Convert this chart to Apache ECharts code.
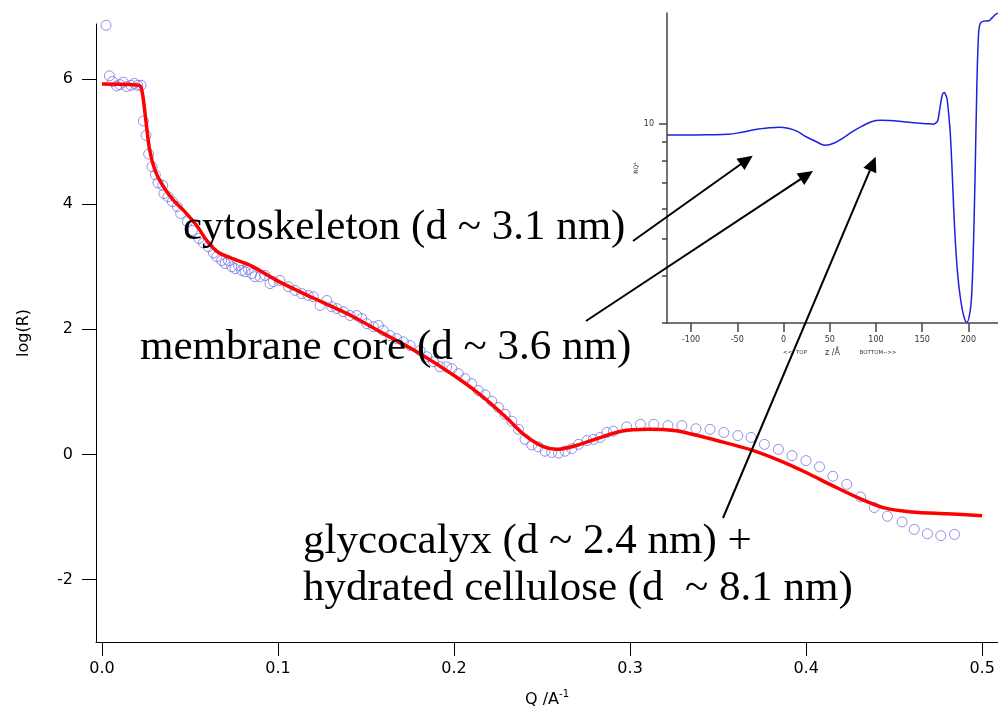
<!DOCTYPE html>
<html>
<head>
<meta charset="utf-8">
<script src="https://cdn.jsdelivr.net/npm/echarts/dist/echarts.min.js"></script>
<style>
html,body{margin:0;padding:0;background:#fff;}
#chart{width:998px;height:712px;}
</style>
</head>
<body>
<div id="chart"></div>
<script>
// ---- measured reflectivity (circles) ----
const measQ = [0.0023,0.0042,0.006,0.0083,0.0102,0.0121,0.014,0.0165,0.0184,0.0203,0.0222,0.0235,0.025,0.0265,0.0284,0.0303,0.0318,0.0345,0.0352,0.0375,0.04,0.0428,0.0447,0.0485,0.0513,0.055,0.0576,0.0604,0.0633,0.0652,0.068,0.0699,0.0718,0.0737,0.0756,0.0775,0.0794,0.0813,0.0832,0.0851,0.0869,0.0898,0.0926,0.0955,0.0974,0.1011,0.1059,0.1097,0.1135,0.1172,0.1201,0.1239,0.1277,0.1305,0.1334,0.1371,0.1409,0.1447,0.1475,0.1504,0.1542,0.157,0.1598,0.1636,0.1674,0.1712,0.175,0.1807,0.1845,0.1883,0.192,0.1958,0.1987,0.2024,0.2062,0.21,0.2138,0.2176,0.2214,0.2252,0.229,0.2328,0.2366,0.2403,0.2441,0.2479,0.2517,0.2555,0.2593,0.2631,0.2669,0.2707,0.2755,0.2792,0.283,0.2868,0.2905,0.2981,0.3059,0.3135,0.3215,0.3294,0.3374,0.3454,0.3532,0.3612,0.3687,0.3763,0.3843,0.392,0.3999,0.4076,0.4152,0.4231,0.4309,0.4387,0.4462,0.4545,0.4614,0.4689,0.4765,0.4843];
const measLogR = [6.86,6.05,5.96,5.89,5.91,5.95,5.88,5.90,5.93,5.90,5.90,5.33,5.10,4.80,4.60,4.47,4.34,4.30,4.17,4.12,4.04,3.96,3.85,3.72,3.58,3.45,3.38,3.32,3.22,3.16,3.10,3.05,3.10,3.00,2.97,3.02,2.94,2.92,2.96,2.89,2.84,2.84,2.86,2.73,2.76,2.78,2.68,2.62,2.57,2.54,2.52,2.38,2.46,2.36,2.33,2.28,2.22,2.22,2.17,2.09,2.04,2.06,1.98,1.90,1.85,1.80,1.74,1.66,1.56,1.48,1.40,1.40,1.37,1.29,1.21,1.13,1.02,0.95,0.85,0.75,0.64,0.53,0.40,0.24,0.15,0.12,0.05,0.03,0.02,0.05,0.09,0.16,0.22,0.24,0.27,0.35,0.37,0.44,0.48,0.48,0.46,0.46,0.41,0.40,0.35,0.30,0.27,0.16,0.08,-0.02,-0.10,-0.20,-0.35,-0.48,-0.68,-0.85,-0.99,-1.08,-1.20,-1.27,-1.30,-1.28];

// ---- model fit (red line) ----
const fitQ = [0,0.021,0.0228,0.025,0.027,0.030,0.034,0.040,0.047,0.054,0.060,0.066,0.075,0.085,0.100,0.120,0.140,0.160,0.180,0.200,0.215,0.230,0.240,0.250,0.258,0.268,0.280,0.295,0.310,0.325,0.340,0.355,0.370,0.385,0.400,0.415,0.430,0.445,0.460,0.480,0.500];
const fitLogR = [5.92,5.90,5.80,5.32,4.88,4.55,4.32,4.08,3.88,3.65,3.40,3.23,3.12,3.01,2.77,2.50,2.24,1.93,1.62,1.26,0.95,0.58,0.31,0.13,0.08,0.13,0.24,0.37,0.40,0.38,0.29,0.18,0.06,-0.10,-0.29,-0.50,-0.70,-0.86,-0.92,-0.95,-0.98];

// ---- inset profile ----
const insetZ = [-126,-100,-80,-60,-45,-30,-15,-5,5,15,25,35,45,55,65,75,85,95,105,115,130,145,155,162,165,167,168.8,170.6,172,173.9,175.3,176.8,178.6,180.4,182.2,184,185.8,188.3,191.2,194.8,198.4,202,203.8,205.6,207.4,209.2,211,212.8,216.5,222,225,228.6,232];
const insetRQ4 = [9.37,9.37,9.38,9.40,9.52,9.68,9.78,9.82,9.75,9.57,9.25,9.00,8.80,8.92,9.22,9.57,9.88,10.15,10.24,10.23,10.15,10.07,10.03,10.0,10.08,10.24,10.88,11.56,11.98,12.12,11.96,11.68,10.67,9.45,7.72,6.06,4.95,4.05,3.51,3.14,3.01,3.24,3.66,4.95,7.72,12.8,17.3,18.4,18.66,18.7,18.97,19.36,19.6];

// ---- tick labels ----
const xTicks = [0, 0.1, 0.2, 0.3, 0.4, 0.5];
const yTicks = [-2, 0, 2, 4, 6];
const insetXTicks = [-100, -50, 0, 50, 100, 150, 200];
const insetYMajor = [10];
const insetYMinor = [3, 4, 5, 6, 7, 8, 9];

// ---- annotation texts ----
const notes = [
  'cytoskeleton (d ~ 3.1 nm)',
  'membrane core (d ~ 3.6 nm)',
  'glycocalyx (d ~ 2.4 nm) +',
  'hydrated cellulose (d  ~ 8.1 nm)'
];

const chart = echarts.init(document.getElementById('chart'), null, {renderer: 'canvas'});

const sans = 'DejaVu Sans';

function arrow(x1, y1, x2, y2) {
  const len = 15, half = 7;
  const dx = x2 - x1, dy = y2 - y1, d = Math.sqrt(dx*dx + dy*dy);
  const ux = dx / d, uy = dy / d;
  const bx = x2 - ux*len, by = y2 - uy*len;
  return [
    {type: 'line', shape: {x1: x1, y1: y1, x2: bx + ux*2, y2: by + uy*2}, style: {stroke: '#000', lineWidth: 2}, z: 100},
    {type: 'polygon', shape: {points: [[x2, y2], [bx - uy*half, by + ux*half], [bx + uy*half, by - ux*half]]}, style: {fill: '#000'}, z: 100}
  ];
}

const noteStyle = (t, x, y) => ({
  type: 'text', x: x, y: y, z: 90,
  style: {text: t, font: '43px "Liberation Serif"', fill: '#000', verticalAlign: 'middle', align: 'left'}
});

const option = {
  backgroundColor: '#fff',
  animation: false,
  grid: [
    {left: 96, right: 0, top: 24, bottom: 70, outerBoundsMode: 'none', containLabel: false},
    {left: 667, right: 0, top: 13, bottom: 389, outerBoundsMode: 'none', containLabel: false}
  ],
  xAxis: [
    {
      type: 'value', gridIndex: 0, min: -0.0034, max: 0.509,
      axisLine: {show: true, onZero: false, lineStyle: {color: '#000', width: 1}},
      axisTick: {show: true, length: 14, customValues: xTicks, lineStyle: {color: '#000'}},
      axisLabel: {customValues: xTicks, margin: 19, color: '#000', fontFamily: sans, fontSize: 16,
        formatter: v => v.toFixed(1)},
      splitLine: {show: false},
      name: '{b|Q /A}{sup|-1}', nameLocation: 'middle', nameGap: 47,
      nameTextStyle: {rich: {
        b: {fontFamily: sans, fontSize: 16, color: '#000', lineHeight: 22},
        sup: {fontFamily: sans, fontSize: 10, color: '#000', verticalAlign: 'top', lineHeight: 22}
      }}
    },
    {
      type: 'value', gridIndex: 1, min: -126, max: 232,
      axisLine: {show: true, onZero: false, lineStyle: {color: '#444', width: 1.5}},
      axisTick: {show: true, length: 9, customValues: insetXTicks, lineStyle: {color: '#444', width: 1.5}},
      axisLabel: {customValues: insetXTicks, margin: 13, color: '#333', fontFamily: sans, fontSize: 8},
      splitLine: {show: false},
      name: 'z /Å', nameLocation: 'middle', nameGap: 26,
      nameTextStyle: {fontFamily: sans, fontSize: 8, color: '#333'}
    }
  ],
  yAxis: [
    {
      type: 'value', gridIndex: 0, min: -3, max: 6.88,
      axisLine: {show: true, onZero: false, lineStyle: {color: '#000', width: 1}},
      axisTick: {show: true, length: 14, customValues: yTicks, lineStyle: {color: '#000'}},
      axisLabel: {customValues: yTicks, margin: 23, color: '#000', fontFamily: sans, fontSize: 16},
      splitLine: {show: false},
      name: 'log(R)', nameLocation: 'middle', nameGap: 64, nameRotate: 90,
      nameTextStyle: {fontFamily: sans, fontSize: 16, color: '#000'}
    },
    {
      type: 'log', gridIndex: 1, min: 3, max: 19.6, position: 'left',
      axisLine: {show: true, onZero: false, lineStyle: {color: '#444', width: 1.5}},
      axisTick: {show: true, length: 8, customValues: insetYMajor, lineStyle: {color: '#444', width: 1.5}},
      axisLabel: {customValues: insetYMajor, margin: 13, color: '#333', fontFamily: sans, fontSize: 8},
      splitLine: {show: false},
      minorTick: {show: false},
      name: 'RQ⁴', nameLocation: 'middle', nameGap: 12, nameRotate: 90,
      nameTextStyle: {fontFamily: sans, fontSize: 6, color: '#333'}
    },
    {
      type: 'log', gridIndex: 1, min: 3, max: 19.6, position: 'left', offset: 0,
      axisLine: {show: false, onZero: false},
      axisTick: {show: true, length: 5, customValues: insetYMinor, lineStyle: {color: '#444', width: 1.5}},
      axisLabel: {show: false},
      splitLine: {show: false}
    }
  ],
  series: [
    {
      type: 'scatter', xAxisIndex: 0, yAxisIndex: 0,
      data: measQ.map((q, i) => [q, measLogR[i]]),
      symbol: 'circle', symbolSize: 10,
      itemStyle: {color: 'rgba(0,0,0,0)', borderColor: '#7474e4', borderWidth: 1},
      z: 2
    },
    {
      type: 'line', xAxisIndex: 0, yAxisIndex: 0,
      data: fitQ.map((q, i) => [q, fitLogR[i]]),
      showSymbol: false, smooth: 0.3,
      lineStyle: {color: '#ff0000', width: 3.5},
      z: 3
    },
    {
      type: 'line', xAxisIndex: 1, yAxisIndex: 1,
      data: insetZ.map((z, i) => [z, insetRQ4[i]]),
      showSymbol: false, smooth: 0.35,
      lineStyle: {color: '#1f1fe0', width: 1.5},
      z: 3
    }
  ],
  graphic: [
    {type: 'text', x: 795, y: 353, z: 90, style: {text: '<<- TOP', font: '5.5px "DejaVu Sans"', fill: '#333', align: 'center', verticalAlign: 'middle'}},
    {type: 'text', x: 878, y: 353, z: 90, style: {text: 'BOTTOM-->>', font: '5.5px "DejaVu Sans"', fill: '#333', align: 'center', verticalAlign: 'middle'}},
    noteStyle(notes[0], 183, 228),
    noteStyle(notes[1], 140, 348),
    noteStyle(notes[2], 303, 542),
    noteStyle(notes[3], 303, 589)
  ].concat(arrow(633, 241, 752.7, 155.7))
   .concat(arrow(586, 321, 813, 171))
   .concat(arrow(723, 518, 875.7, 156.7))
};

chart.setOption(option);
</script>
</body>
</html>
